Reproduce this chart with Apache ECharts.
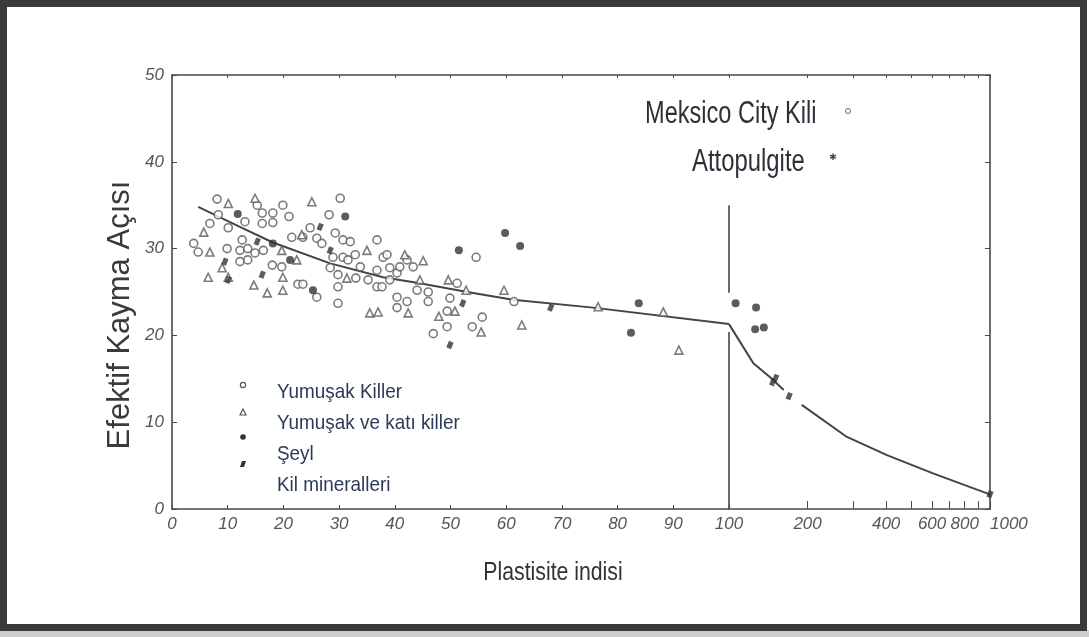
<!DOCTYPE html>
<html><head><meta charset="utf-8">
<script src="https://cdn.jsdelivr.net/npm/echarts@6/dist/echarts.min.js"></script>
<style>html,body{margin:0;padding:0;background:#fff}#c{width:1089px;height:637px}</style>
</head><body><div id="c"></div>
<script>
// ---------- data ----------
const yTickLabels = [0, 10, 20, 30, 40, 50];
const xLinearTickLabels = [0, 10, 20, 30, 40, 50, 60, 70, 80, 90, 100];
const xLogTickLabels = [200, 400, 600, 800, 1000];
const xLogTicks = [200, 300, 400, 500, 600, 700, 800, 900, 1000];

const legendNames = ['Yumuşak Killer', 'Yumuşak ve katı killer', 'Şeyl', 'Kil mineralleri'];
const noteNames = ['Meksico City Kili', 'Attopulgite'];
const xTitle = 'Plastisite indisi';
const yTitle = 'Efektif Kayma Açısı';

const softClays = [[3.9,30.6],[4.7,29.6],[6.8,32.9],[8.1,35.7],[8.3,33.9],[9.9,30.0],[10.1,32.4],[12.2,29.8],[12.2,28.5],[12.6,31.0],[13.1,33.1],[13.6,30.0],[13.6,28.7],[14.9,29.5],[15.3,35.0],[16.2,34.1],[16.2,32.9],[16.4,29.8],[18.0,28.1],[18.1,34.1],[18.1,33.0],[19.7,27.9],[19.9,35.0],[21.0,33.7],[21.5,31.3],[22.6,25.9],[23.5,25.9],[23.5,31.3],[24.8,32.4],[26.0,31.2],[26.0,24.4],[26.9,30.6],[28.2,33.9],[28.4,27.8],[28.9,29.0],[29.3,31.8],[29.8,27.0],[29.8,25.6],[29.8,23.7],[30.2,35.8],[30.7,31.0],[30.7,29.0],[31.6,28.7],[32.0,30.8],[32.9,29.3],[33.0,26.6],[33.8,27.9],[35.2,26.4],[36.8,31.0],[36.8,27.5],[36.8,25.6],[37.7,25.6],[37.9,29.0],[38.6,29.3],[39.1,27.8],[39.1,26.4],[40.4,27.2],[40.4,24.4],[40.4,23.2],[40.9,27.9],[42.2,28.7],[42.2,23.9],[43.3,27.9],[44.0,25.2],[46.0,25.0],[46.0,23.9],[46.9,20.2],[49.4,21.0],[49.4,22.8],[49.9,24.3],[51.2,26.0],[53.9,21.0],[54.6,29.0],[55.7,22.1],[61.4,23.9]];
const softStiffClays = [[5.7,31.9],[6.5,26.7],[6.8,29.6],[9.0,27.8],[10.1,35.2],[10.1,26.7],[14.7,25.8],[14.9,35.8],[17.1,24.9],[19.7,29.8],[19.9,26.7],[19.9,25.2],[22.4,28.7],[23.3,31.6],[25.1,35.4],[31.4,26.6],[35.0,29.8],[35.5,22.6],[37.0,22.7],[41.8,29.3],[42.4,22.6],[44.5,26.4],[45.1,28.6],[47.9,22.2],[49.6,26.4],[50.8,22.8],[52.8,25.2],[55.5,20.4],[59.6,25.2],[62.8,21.2],[76.5,23.3],[88.2,22.7],[91.0,18.3]];
const shaleLow = [[11.8,34.0],[18.1,30.6],[21.2,28.7],[25.3,25.2],[31.1,33.7],[51.5,29.8],[59.8,31.8],[62.5,30.3],[82.4,20.3],[83.8,23.7]];
const shaleHigh = [[106,23.7],[127,23.2],[126,20.7],[136,20.9]];
const mineralsLow = [[9.5,28.5],[10.1,26.4],[15.3,30.8],[16.2,27.0],[26.6,32.5],[28.4,29.8],[49.9,18.9],[52.2,23.7],[68.0,23.2]];
const mineralsHigh = [[147,14.6],[151,15.1],[170,13.0],[1000,1.7]];
const trendLow = [[4.7,34.8],[12.2,32.5],[18.1,30.7],[28.4,28.3],[37.9,26.7],[44.5,26.0],[53,25.0],[61.2,24.1],[75.6,23.2],[100,21.3]];
const trendHigh = [[100,21.3],[124,16.8],[146,15.0],[162,13.7],[175,'-'],[190,12.0],[283,8.3],[403,6.2],[605,4.1],[975,1.8],[1000,1.6]];
const divider = [[100,35],[100,24.9],[100,'-'],[100,20.4],[100,0]];

// ---------- styles ----------
const ink = '#4a4a4a';
const tickFont = {fontFamily:'Liberation Sans', fontStyle:'italic', fontSize:17, color:'#555', formatter:v => String(v)};
const sans = 'Liberation Sans';

const chart = echarts.init(document.getElementById('c'), null, {renderer:'canvas'});
const axisLineStyle = {show:true, lineStyle:{color:ink, width:1.6}};
const mineralStyle = {symbol:'rect', symbolSize:[5,7], symbolRotate:-22, itemStyle:{color:'#333'}, z:4};

chart.setOption({
  backgroundColor:'#fff',
  animation:false,
  grid:[
    {left:172, top:75, width:557, height:434},
    {left:729, top:75, width:261, height:434}
  ],
  xAxis:[
    {gridIndex:0, type:'value', position:'bottom', min:0, max:100, interval:10,
     axisLine:axisLineStyle, splitLine:{show:false},
     axisTick:{inside:true, length:4, lineStyle:{color:ink}},
     axisLabel:Object.assign({margin:7, customValues:xLinearTickLabels}, tickFont)},
    {gridIndex:0, type:'value', position:'top', min:0, max:100, interval:10,
     axisLine:axisLineStyle, splitLine:{show:false},
     axisTick:{inside:true, length:3, lineStyle:{color:ink}},
     axisLabel:{show:false}},
    {gridIndex:1, type:'log', position:'bottom', min:100, max:1000,
     axisLine:axisLineStyle, splitLine:{show:false},
     axisTick:{inside:true, length:8, customValues:xLogTicks, lineStyle:{color:ink}},
     axisLabel:Object.assign({margin:7, customValues:xLogTickLabels, alignMaxLabel:'left'}, tickFont)},
    {gridIndex:1, type:'log', position:'top', min:100, max:1000,
     axisLine:axisLineStyle, splitLine:{show:false},
     axisTick:{inside:true, length:3, customValues:xLogTicks, lineStyle:{color:ink}},
     axisLabel:{show:false}}
  ],
  yAxis:[
    {gridIndex:0, type:'value', position:'left', min:0, max:50, interval:10,
     axisLine:axisLineStyle, splitLine:{show:false},
     axisTick:{inside:true, length:5, lineStyle:{color:ink}},
     axisLabel:Object.assign({margin:8, customValues:yTickLabels}, tickFont)},
    {gridIndex:1, type:'value', position:'right', min:0, max:50, interval:10,
     axisLine:axisLineStyle, splitLine:{show:false},
     axisTick:{inside:true, length:5, lineStyle:{color:ink}},
     axisLabel:{show:false}}
  ],
  series:[
    {type:'line', xAxisIndex:0, yAxisIndex:0, data:trendLow, showSymbol:false, symbol:'none',
     lineStyle:{color:'#444', width:2}, z:1},
    {type:'line', xAxisIndex:2, yAxisIndex:1, data:trendHigh, showSymbol:false, symbol:'none', connectNulls:false,
     lineStyle:{color:'#444', width:2}, z:1},
    {type:'line', xAxisIndex:0, yAxisIndex:0, data:divider, showSymbol:false, symbol:'none', connectNulls:false,
     lineStyle:{color:'#444', width:1.6}, z:1},
    {name:legendNames[0], type:'scatter', xAxisIndex:0, yAxisIndex:0, data:softClays, symbol:'circle', symbolSize:8,
     itemStyle:{color:'#fff', borderColor:'#5a5a5a', borderWidth:1.6}, z:3},
    {name:legendNames[1], type:'scatter', xAxisIndex:0, yAxisIndex:0, data:softStiffClays, symbol:'triangle', symbolSize:8,
     itemStyle:{color:'#fff', borderColor:'#5a5a5a', borderWidth:1.6}, z:3},
    {name:legendNames[2], type:'scatter', xAxisIndex:0, yAxisIndex:0, data:shaleLow, symbol:'circle', symbolSize:8,
     itemStyle:{color:'#333'}, z:4},
    {name:legendNames[2], type:'scatter', xAxisIndex:2, yAxisIndex:1, data:shaleHigh, symbol:'circle', symbolSize:8,
     itemStyle:{color:'#333'}, z:4},
    Object.assign({name:legendNames[3], type:'scatter', xAxisIndex:0, yAxisIndex:0, data:mineralsLow}, mineralStyle),
    Object.assign({name:legendNames[3], type:'scatter', xAxisIndex:2, yAxisIndex:1, data:mineralsHigh, clip:false}, mineralStyle)
  ],
  graphic:[
    {type:'rect', left:0, top:630, shape:{width:1089, height:7}, style:{fill:'#cfcfcf'}, silent:true},
    {type:'rect', shape:{x:3.5, y:3.5, width:1080, height:624}, style:{fill:'none', stroke:'#3a3a3a', lineWidth:7}, silent:true},
    {type:'text', x:120, y:315, rotation:Math.PI/2, style:{text:yTitle, fontFamily:sans, fontSize:31, fill:'#3a3a3a', align:'center', verticalAlign:'middle'}},
    {type:'text', x:553, y:573, scaleX:0.85, style:{text:xTitle, fontFamily:sans, fontSize:25, fill:'#333', align:'center', verticalAlign:'middle'}},
    {type:'text', x:645, y:114, scaleX:0.76, style:{text:noteNames[0], fontFamily:sans, fontSize:31, fill:'#2e3038', align:'left', verticalAlign:'middle'}},
    {type:'circle', shape:{cx:848, cy:111, r:2.5}, style:{fill:'#fff', stroke:'#666', lineWidth:1}},
    {type:'text', x:692, y:162, scaleX:0.77, style:{text:noteNames[1], fontFamily:sans, fontSize:31, fill:'#2e3038', align:'left', verticalAlign:'middle'}},
    {type:'text', x:833, y:158, style:{text:'✱', fontFamily:'DejaVu Sans', fontSize:9, fill:'#444', align:'center', verticalAlign:'middle'}},
    // legend
    {type:'circle', shape:{cx:243, cy:385, r:2.6}, style:{fill:'#fff', stroke:'#555', lineWidth:1.2}},
    {type:'polygon', shape:{points:[[243,409],[240,415],[246,415]]}, style:{fill:'#fff', stroke:'#555', lineWidth:1.2}},
    {type:'circle', shape:{cx:243, cy:437, r:2.8}, style:{fill:'#333'}},
    {type:'polygon', shape:{points:[[242,461],[246,461],[244,467],[240,467]]}, style:{fill:'#333'}},
    {type:'text', x:277, y:392, scaleX:0.9, style:{text:legendNames[0], fontFamily:sans, fontSize:21, fill:'#2b3a58', verticalAlign:'middle'}},
    {type:'text', x:277, y:423, scaleX:0.9, style:{text:legendNames[1], fontFamily:sans, fontSize:21, fill:'#2b3a58', verticalAlign:'middle'}},
    {type:'text', x:277, y:454, scaleX:0.9, style:{text:legendNames[2], fontFamily:sans, fontSize:21, fill:'#2b3a58', verticalAlign:'middle'}},
    {type:'text', x:277, y:485, scaleX:0.9, style:{text:legendNames[3], fontFamily:sans, fontSize:21, fill:'#2b3a58', verticalAlign:'middle'}}
  ]
});
</script></body></html>
